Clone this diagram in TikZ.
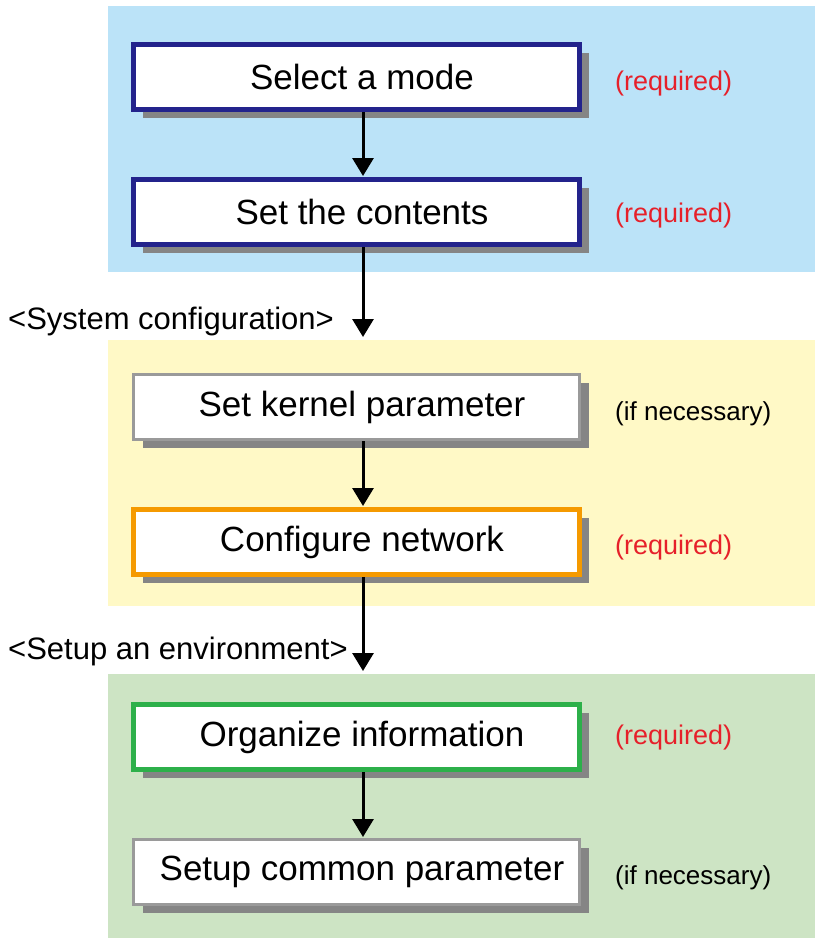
\documentclass[tikz,border=0pt]{standalone}
\usepackage{fontspec}
\setmainfont{Liberation Sans}
\usetikzlibrary{shadows,arrows.meta}
\definecolor{pblue}{HTML}{BBE3F8}
\definecolor{pyellow}{HTML}{FFF9C6}
\definecolor{pgreen}{HTML}{CDE4C4}
\definecolor{bblue}{HTML}{23238C}
\definecolor{borange}{HTML}{F59A00}
\definecolor{bgreen}{HTML}{2DB04A}
\definecolor{bgray}{HTML}{9A9A9A}
\definecolor{reqred}{HTML}{E6202A}
\definecolor{shadowgray}{HTML}{858585}
\tikzset{
  stepbox/.style={draw=#1, fill=white, line width=5pt, minimum width=446pt, minimum height=65pt,
    inner sep=0pt, font=\fontsize{35}{42}\selectfont,
    general shadow={shadow xshift=10pt, shadow yshift=-8pt, fill=shadowgray, draw=none, opacity=1}},
  graybox/.style={stepbox=bgray, line width=3pt},
  req/.style={anchor=west, text=reqred, font=\fontsize{27}{32}\selectfont, inner sep=0pt},
  ifn/.style={anchor=west, text=black, font=\fontsize{26}{32}\selectfont, inner sep=0pt},
  sect/.style={anchor=west, font=\fontsize{31}{37}\selectfont, inner sep=0pt},
  flow/.style={line width=3pt, -{Triangle[length=18pt,width=21pt]}, shorten >=1pt}
}
\begin{document}
\begin{tikzpicture}[x=1pt,y=-1pt]
\useasboundingbox (0,0) rectangle (815,938);
\fill[white] (0,0) rectangle (815,938);
% panels
\fill[pblue] (108,6) rectangle (815,272);
\fill[pyellow] (108,340) rectangle (815,606);
\fill[pgreen] (108,674) rectangle (815,938);
\coordinate (ax) at (363,0);
\coordinate (sysbot) at (363,338);
\coordinate (envbot) at (363,672);
% boxes
\node[stepbox=bblue] (mode) at (356,77) {\hspace*{12pt}Select a mode};
\node[stepbox=bblue] (cont) at (356,212) {\hspace*{12pt}Set the contents};
\node[graybox] (kern) at (356,407) {\hspace*{12pt}Set kernel parameter};
\node[stepbox=borange] (net) at (356,542) {\hspace*{12pt}Configure network};
\node[stepbox=bgreen] (org) at (356,737) {\hspace*{12pt}Organize information};
\node[graybox] (common) at (356,872) {\hspace*{12pt}Setup common parameter};
% side labels
\node[req] (r1) at (615,84) {(required)};
\node[req] (r2) at (615,216) {(required)};
\node[ifn] (i1) at (615,414) {(if necessary)};
\node[req] (r3) at (615,548) {(required)};
\node[req] (r4) at (615,738) {(required)};
\node[ifn] (i2) at (615,878) {(if necessary)};
% section labels
\node[sect] (sys) at (8,321) {<System configuration>};
\node[sect] (env) at (8,651) {<Setup an environment>};
% arrows
\draw[flow] (mode.south -| ax) -- (cont.north -| ax);
\draw[flow] (cont.south -| ax) -- (sysbot);
\draw[flow] (kern.south -| ax) -- (net.north -| ax);
\draw[flow] (net.south -| ax) -- (envbot);
\draw[flow] (org.south -| ax) -- (common.north -| ax);
\end{tikzpicture}
\end{document}
